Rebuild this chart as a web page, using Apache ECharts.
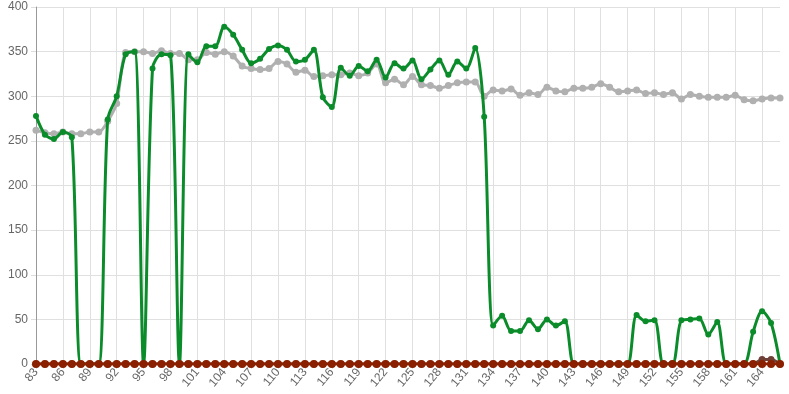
<!DOCTYPE html>
<html>
<head>
<meta charset="utf-8">
<script src="https://cdn.jsdelivr.net/npm/echarts@6/dist/echarts.min.js"></script>
<style>html,body{margin:0;padding:0;background:#fff}#c{width:789px;height:394px}</style>
</head>
<body>
<div id="c"></div>
<script>
const categories = [];
for (let i = 83; i <= 166; i++) categories.push(String(i));

const graySeries = [262,259,258,260,258,258,260,260,272,292,349,350,350,348,351,348,348,341,341,349,347,350,345,334,331,330,331,339,336,327,329,322,323,324,324,326,323,326,336,315,319,313,322,313,312,309,312,315,316,316,300,307,306,308,301,304,302,310,306,305,309,309,310,314,310,305,306,307,303,304,302,304,297,302,300,299,299,299,301,296,295,297,298,298];

const greenSeries = [278,257,252,260,254,0,0,0,274,300,347,350,0,331,347,346,0,347,338,356,356,378,369,352,337,342,353,357,352,339,341,352,299,288,332,323,334,328,341,321,337,331,340,319,330,340,324,339,331,354,277,43,54,37,37,49,39,50,43,48,0,0,0,0,0,0,0,55,48,49,0,0,49,50,51,33,47,0,0,0,36,59,46,0];

const darkSeries = [0,0,0,0,0,0,0,0,0,0,0,0,0,0,0,0,0,0,0,0,0,0,0,0,0,0,0,0,0,0,0,0,0,0,0,0,0,0,0,0,0,0,0,0,0,0,0,0,0,0,0,0,0,0,0,0,0,0,0,0,0,0,0,0,0,0,0,0,0,0,0,0,0,0,0,0,0,0,0,0,0,5,5,0];

const redSeries = categories.map(() => 0);

const yTicks = [0,50,100,150,200,250,300,350,400];

const chart = echarts.init(document.getElementById('c'), null, {renderer: 'canvas'});
const font = 'Liberation Sans, Arial, Helvetica, sans-serif';
function line(data, color, width, size, z) {
  return {type: 'line', data: data, smooth: 0.3, symbol: 'circle', symbolSize: size,
    showSymbol: true, showAllSymbol: true,
    lineStyle: {color: color, width: width}, itemStyle: {color: color}, z: z};
}
chart.setOption({
  animation: false,
  grid: {left: 36, right: 9, top: 7, bottom: 30, containLabel: false},
  xAxis: {
    type: 'category', data: categories, boundaryGap: false,
    axisLine: {show: true, lineStyle: {color: '#cccccc'}},
    axisTick: {show: true, interval: 2, length: 5, lineStyle: {color: '#dddddd'}},
    axisLabel: {interval: 2, rotate: 50, color: '#666', fontSize: 12, fontFamily: font, margin: 6},
    splitLine: {show: true, interval: 2, lineStyle: {color: '#e0e0e0', width: 1}}
  },
  yAxis: {
    type: 'value', min: yTicks[0], max: yTicks[yTicks.length-1], interval: 50,
    axisLine: {show: true, lineStyle: {color: '#999999'}},
    axisTick: {show: true, length: 5, lineStyle: {color: '#dddddd'}},
    axisLabel: {color: '#666', fontSize: 12, fontFamily: font, margin: 8},
    splitLine: {show: true, lineStyle: {color: '#e0e0e0', width: 1}}
  },
  series: [
    line(graySeries, '#b0b0b0', 3, 7, 1),
    line(greenSeries, '#0b8c2b', 3, 6, 2),
    line(darkSeries, '#6e4038', 3, 7, 3),
    line(redSeries, '#8b2000', 3, 8, 4)
  ]
});
</script>
</body>
</html>
